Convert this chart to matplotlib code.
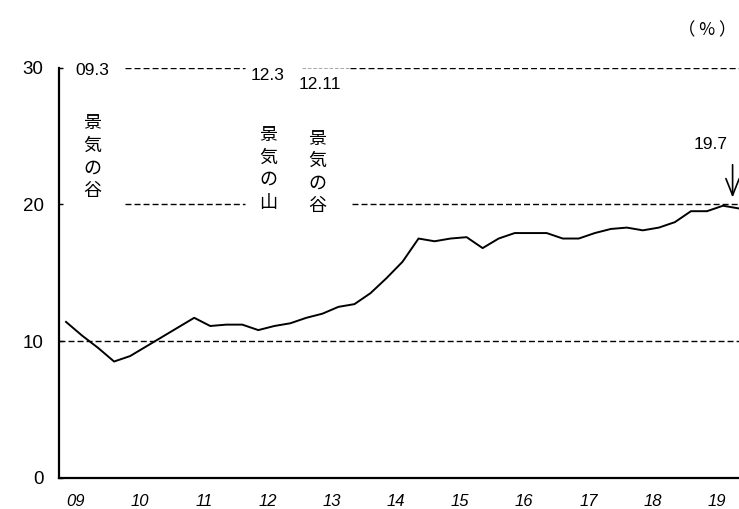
import matplotlib
matplotlib.use("Agg")
import matplotlib.pyplot as plt
import numpy as np

plt.rcParams["font.family"] = ["Liberation Sans", "Noto Sans CJK JP", "DejaVu Sans"]

# Quarterly series, 2009 Q1 - 2019 Q3 (%)
values = [11.4, 10.4, 9.5, 8.5, 8.9, 9.6, 10.3, 11.0, 11.7, 11.1, 11.2, 11.2,
          10.8, 11.1, 11.3, 11.7, 12.0, 12.5, 12.7, 13.5, 14.6, 15.8, 17.5, 17.3,
          17.5, 17.6, 16.8, 17.5, 17.9, 17.9, 17.9, 17.5, 17.5, 17.9, 18.2, 18.3,
          18.1, 18.3, 18.7, 19.5, 19.5, 19.9, 19.7]
year_labels = ["09", "10", "11", "12", "13", "14", "15", "16", "17", "18", "19"]
y_ticks = [0, 10, 20, 30]

# Business-cycle turning points: (label, kind, quarter index)
turning_points = [("09.3", "景気の谷", 0), ("12.3", "景気の山", 12), ("12.11", "景気の谷", 15)]
latest_label = "19.7"

x = np.arange(len(values))

fig = plt.figure(figsize=(7.39, 5.09), dpi=100)
ax = fig.add_axes([0.0798, 0.0615, 0.9202, 0.8055])

ax.set_xlim(-0.44, len(values) - 1)
ax.set_ylim(0, 30)

# dashed reference lines (broken where the turning-point labels sit)
dash = dict(color="black", linestyle=(0, (4.3, 2.2)), linewidth=1.0, zorder=1)
ax.hlines(10, -0.44, 42, **dash)
ax.hlines(20, 3.67, 11.14, **dash)
ax.hlines(20, 17.86, 42, **dash)
ax.hlines(30, 3.67, 11.14, **dash)
ax.hlines(30, 17.73, 42, **dash)
ax.hlines(30, 14.73, 17.73, color="#9a9a9a", linestyle=(0, (4.3, 2.2)),
          linewidth=0.6, zorder=1)

ax.plot(x, values, color="black", linewidth=1.4, zorder=3)

for side in ("top", "right"):
    ax.spines[side].set_visible(False)
for side in ("left", "bottom"):
    ax.spines[side].set_linewidth(1.6)

ax.set_yticks(y_ticks)
ax.set_yticklabels([str(v) for v in y_ticks], fontsize=13.5)
ax.tick_params(axis="y", direction="in", length=3, width=1, pad=11)

ax.set_xticks(np.arange(len(year_labels)) * 4 + 0.6)
ax.set_xticklabels(year_labels, fontsize=12, style="italic")
ax.tick_params(axis="x", length=0, pad=12)

# turning-point annotations
date_pos = {"09.3": (1.62, 29.8), "12.3": (12.6, 29.45), "12.11": (15.85, 28.8)}
kind_pos = {"09.3": (1.62, 23.45), "12.3": (12.6, 22.6), "12.11": (15.7, 22.35)}
for label, kind, q in turning_points:
    dx, dy = date_pos[label]
    ax.text(dx, dy, label, fontsize=12.5, ha="center", va="center", zorder=4)
    kx, ky = kind_pos[label]
    ax.text(kx, ky, "\n".join(kind), fontsize=13, ha="center", va="center",
            linespacing=1.32, family=["Noto Sans CJK JP", "DejaVu Sans"], zorder=4)

# latest value marker
ax.text(40.2, 24.4, latest_label, fontsize=12.5, ha="center", va="center")
ax.annotate("", xy=(41.6, values[-1] + 0.8), xytext=(41.6, values[-1] + 3.2),
            arrowprops=dict(arrowstyle="->,head_length=1.0,head_width=0.4",
                            color="black", linewidth=1.2, mutation_scale=12,
                            shrinkA=0, shrinkB=0))

fig.text(0.996, 0.941, "（ % ）", fontsize=12.5, ha="right", va="center",
         family=["Noto Sans CJK JP", "DejaVu Sans"])

fig.savefig("out.png", dpi=100)
